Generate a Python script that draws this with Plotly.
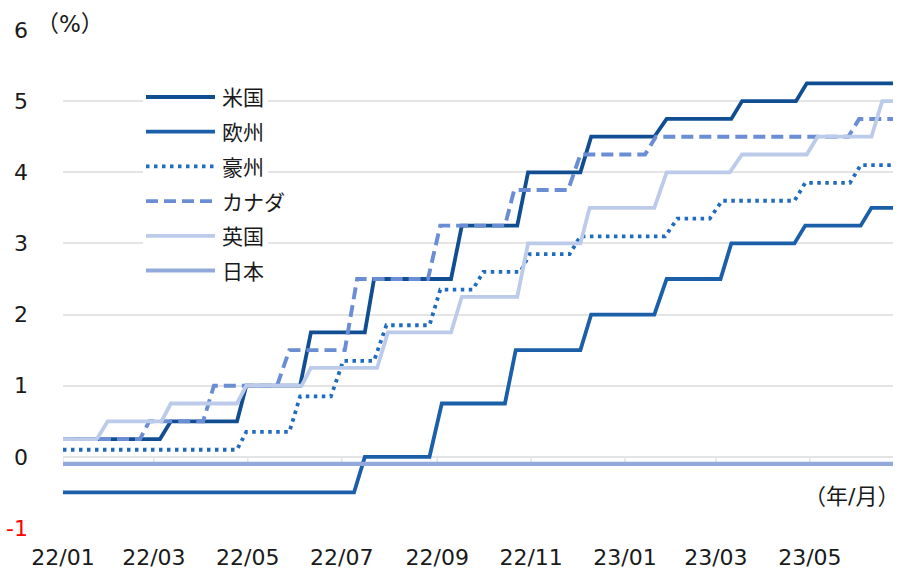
import plotly.graph_objects as go

# ---- policy rate data (%), vertices of each weekly step line ----
names = ["米国", "欧州", "豪州", "カナダ", "英国", "日本"]

us_dates = ["2022-01-01", "2022-03-05", "2022-03-12", "2022-04-24", "2022-04-30",
            "2022-06-04", "2022-06-11", "2022-07-16", "2022-07-22", "2022-09-10",
            "2022-09-17", "2022-10-23", "2022-10-30", "2022-12-03", "2022-12-10",
            "2023-01-20", "2023-01-28", "2023-03-11", "2023-03-18", "2023-04-22",
            "2023-04-29", "2023-06-24"]
us_rates = [0.25, 0.25, 0.5, 0.5, 1.0, 1.0, 1.75, 1.75, 2.5, 2.5, 3.25, 3.25, 4.0,
            4.0, 4.5, 4.5, 4.75, 4.75, 5.0, 5.0, 5.25, 5.25]

eu_dates = ["2022-01-01", "2022-07-09", "2022-07-16", "2022-08-27", "2022-09-04",
            "2022-10-15", "2022-10-22", "2022-12-03", "2022-12-10", "2023-01-20",
            "2023-01-28", "2023-03-04", "2023-03-11", "2023-04-21", "2023-04-28",
            "2023-06-03", "2023-06-10", "2023-06-24"]
eu_rates = [-0.5, -0.5, 0.0, 0.0, 0.75, 0.75, 1.5, 1.5, 2.0, 2.0, 2.5, 2.5, 3.0,
            3.0, 3.25, 3.25, 3.5, 3.5]

au_dates = ["2022-01-01", "2022-04-24", "2022-04-30", "2022-05-28", "2022-06-04",
            "2022-06-24", "2022-07-02", "2022-07-22", "2022-07-30", "2022-08-27",
            "2022-09-03", "2022-09-24", "2022-10-01", "2022-10-25", "2022-10-31",
            "2022-11-26", "2022-12-03", "2023-01-27", "2023-02-04", "2023-02-25",
            "2023-03-05", "2023-04-21", "2023-04-28", "2023-05-27", "2023-06-03",
            "2023-06-24"]
au_rates = [0.1, 0.1, 0.35, 0.35, 0.85, 0.85, 1.35, 1.35, 1.85, 1.85, 2.35, 2.35,
            2.6, 2.6, 2.85, 2.85, 3.1, 3.1, 3.35, 3.35, 3.6, 3.6, 3.85, 3.85, 4.1, 4.1]

ca_dates = ["2022-01-01", "2022-02-20", "2022-02-26", "2022-04-02", "2022-04-09",
            "2022-05-20", "2022-05-28", "2022-07-03", "2022-07-11", "2022-08-26",
            "2022-09-03", "2022-10-15", "2022-10-21", "2022-11-25", "2022-12-03",
            "2023-01-14", "2023-01-21", "2023-05-26", "2023-06-02", "2023-06-24"]
ca_rates = [0.25, 0.25, 0.5, 0.5, 1.0, 1.0, 1.5, 1.5, 2.5, 2.5, 3.25, 3.25, 3.75,
            3.75, 4.25, 4.25, 4.5, 4.5, 4.75, 4.75]

uk_dates = ["2022-01-01", "2022-01-23", "2022-01-30", "2022-03-06", "2022-03-12",
            "2022-04-24", "2022-04-30", "2022-06-05", "2022-06-11", "2022-07-24",
            "2022-07-31", "2022-09-10", "2022-09-17", "2022-10-23", "2022-10-30",
            "2022-12-03", "2022-12-09", "2023-01-20", "2023-01-28", "2023-03-10",
            "2023-03-18", "2023-04-29", "2023-05-06", "2023-06-10", "2023-06-17",
            "2023-06-24"]
uk_rates = [0.25, 0.25, 0.5, 0.5, 0.75, 0.75, 1.0, 1.0, 1.25, 1.25, 1.75, 1.75,
            2.25, 2.25, 3.0, 3.0, 3.5, 3.5, 4.0, 4.0, 4.25, 4.25, 4.5, 4.5, 5.0, 5.0]

jp_dates = ["2022-01-01", "2023-06-24"]
jp_rates = [-0.1, -0.1]

x_tickvals = ["2022-01-01", "2022-03-01", "2022-05-01", "2022-07-01", "2022-09-01",
              "2022-11-01", "2023-01-01", "2023-03-01", "2023-05-01"]
x_ticktext = ["22/01", "22/03", "22/05", "22/07", "22/09", "22/11", "23/01",
              "23/03", "23/05"]
y_tickvals = [-1, 0, 1, 2, 3, 4, 5, 6]

# ---- styles ----
colors = ["#114e91", "#1a5fa8", "#1f6bbf", "#6a8dd3", "#bccbe9", "#93a9db"]
widths = [3.8, 3.8, 3.8, 3.9, 3.8, 4.2]
dashes = ["solid", "solid", "3.5px,4.5px", "12px,6px", "solid", "solid"]

series = [(us_dates, us_rates), (eu_dates, eu_rates), (au_dates, au_rates),
          (ca_dates, ca_rates), (uk_dates, uk_rates), (jp_dates, jp_rates)]

W, H = 901, 573
ML, MR, MT, MB = 63, 8, 30, 45
GRID = "#e4e4e4"
FONT = "DejaVu Sans, Noto Sans CJK JP, sans-serif"
TEXT = "#1a1a1a"


def px_x(px):
    return (px - ML) / (W - ML - MR)


def px_y(py):
    return (H - MB - py) / (H - MT - MB)


fig = go.Figure()
for (d, v), name, c, w, dash in zip(series, names, colors, widths, dashes):
    fig.add_trace(go.Scatter(x=d, y=v, mode="lines", name=name,
                             line=dict(color=c, width=w, dash=dash),
                             showlegend=False))

shapes = []
# small tick marks hanging from the zero line
for tv in x_tickvals:
    shapes.append(dict(type="line", xref="x", yref="y", x0=tv, x1=tv, y0=0, y1=-0.08,
                       line=dict(color=GRID, width=1.5), layer="below"))

# legend: white panel, line samples and labels
shapes.append(dict(type="rect", xref="paper", yref="paper",
                   x0=px_x(143), x1=px_x(268), y0=px_y(287), y1=px_y(80),
                   fillcolor="white", line=dict(width=0), layer="above"))
annotations = []
row0, row_h = 97, 34.7
for i, (name, c, w, dash) in enumerate(zip(names, colors, widths, dashes)):
    yy = px_y(row0 + i * row_h)
    shapes.append(dict(type="line", xref="paper", yref="paper",
                       x0=px_x(146), x1=px_x(215), y0=yy, y1=yy,
                       line=dict(color=c, width=w, dash=dash), layer="above"))
    annotations.append(dict(text=name, xref="paper", yref="paper", x=px_x(220), y=yy - 0.003,
                            xanchor="left", yanchor="middle", showarrow=False,
                            font=dict(size=21, color=TEXT, family=FONT)))

annotations.append(dict(text="（%）", xref="paper", yref="paper", x=px_x(34), y=px_y(24),
                        xanchor="left", yanchor="middle", showarrow=False,
                        bgcolor="white", font=dict(size=23, color=TEXT, family=FONT)))
annotations.append(dict(text="（年/月）", xref="paper", yref="paper", x=px_x(901), y=px_y(496),
                        xanchor="right", yanchor="middle", showarrow=False,
                        font=dict(size=22, color=TEXT, family=FONT)))

y_ticktext = ["<span style='color:#ff0000'>-1</span>" if v == -1 else str(v)
              for v in y_tickvals]

fig.update_layout(
    width=W, height=H,
    margin=dict(l=ML, r=MR, t=MT, b=MB, pad=0, autoexpand=False),
    paper_bgcolor="white", plot_bgcolor="white",
    font=dict(family=FONT, size=22, color=TEXT),
    shapes=shapes, annotations=annotations,
    xaxis=dict(type="date", range=["2022-01-01", "2023-06-24"],
               tickmode="array", tickvals=x_tickvals, ticktext=x_ticktext,
               showgrid=False, zeroline=False, showline=False, ticks="",
               automargin=False, ticklabelstandoff=14, tickfont=dict(size=22)),
    yaxis=dict(range=[-1, 6], tickmode="array", tickvals=y_tickvals, ticktext=y_ticktext,
               showgrid=True, gridcolor=GRID, gridwidth=1.5, zeroline=False,
               showline=False, ticks="", automargin=False, ticklabelstandoff=34,
               tickfont=dict(size=22)),
    hovermode=False,
)

fig.write_html("out.html")
